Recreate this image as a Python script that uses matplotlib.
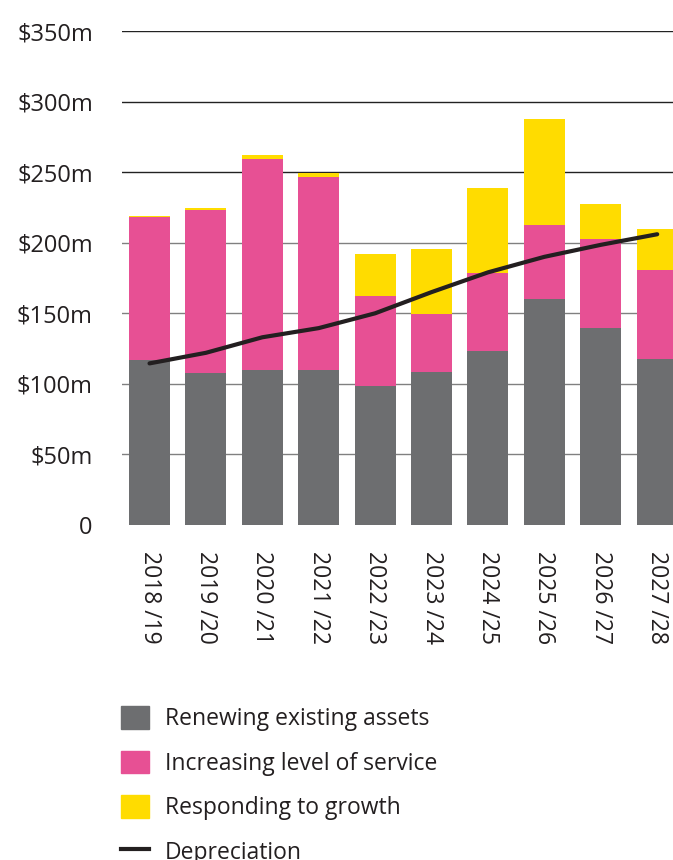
import matplotlib.pyplot as plt
from matplotlib.patches import Patch
from matplotlib.lines import Line2D

plt.rcParams['font.family'] = ['Open Sans', 'DejaVu Sans']

years = ["2018 /19", "2019 /20", "2020 /21", "2021 /22", "2022 /23",
         "2023 /24", "2024 /25", "2025 /26", "2026 /27", "2027 /28"]
renewing = [117, 108, 110, 110, 98.5, 108.5, 123, 160, 139.5, 117.5]
increasing = [101, 115.5, 149, 136.5, 63.5, 41, 55.5, 52.5, 63, 63.5]
growth = [1.2, 1, 3, 3, 30, 46, 60, 75.5, 25, 28.5]
depreciation = [114.5, 122, 133, 139.5, 150, 165, 179, 190, 198.5, 206]

c_grey = "#6d6e70"
c_pink = "#e75094"
c_yellow = "#ffdc00"
c_text = "#231f20"

fig = plt.figure(figsize=(6.73, 8.60), dpi=100)
ax = fig.add_axes([122/673, 335/860, 551/673, 494/860])

x = range(len(years))
w = 0.727
bottom2 = [a + b for a, b in zip(renewing, increasing)]
ax.bar(x, renewing, w, color=c_grey, zorder=2)
ax.bar(x, increasing, w, bottom=renewing, color=c_pink, zorder=2)
ax.bar(x, growth, w, bottom=bottom2, color=c_yellow, zorder=2)
ax.plot(x, depreciation, color=c_text, lw=3, solid_capstyle='round', zorder=3)

# gridlines (upper ones darker)
for v in [50, 100, 150, 200, 250, 300, 350]:
    ax.axhline(v, color="#222222" if v >= 250 else "#808080", lw=1, zorder=1)

ax.set_xlim(-0.488, 9.28)
ax.set_ylim(0, 350)
ax.set_yticks([0, 50, 100, 150, 200, 250, 300, 350])
ax.set_yticklabels(["0", "$50m", "$100m", "$150m", "$200m", "$250m", "$300m", "$350m"])
ax.set_xticks(list(x))
ax.set_xticklabels(years, rotation=270, va="top", ha="center")
ax.tick_params(axis="y", length=0, pad=21, labelsize=17, labelcolor=c_text)
ax.tick_params(axis="x", length=0, pad=19, labelsize=16.5, labelcolor=c_text)
for s in ax.spines.values():
    s.set_visible(False)

handles = [Patch(color=c_grey), Patch(color=c_pink), Patch(color=c_yellow),
           Line2D([], [], color=c_text, lw=3)]
labels = ["Renewing existing assets", "Increasing level of service",
          "Responding to growth", "Depreciation"]
fig.legend(handles, labels, loc="upper left", bbox_to_anchor=(121/673, 1 - 706/860),
           frameon=False, fontsize=16.5, handlelength=1.2, handleheight=1.15,
           handletextpad=0.72, labelspacing=0.85, borderpad=0, borderaxespad=0,
           labelcolor=c_text)

fig.savefig("out.png", dpi=100)
